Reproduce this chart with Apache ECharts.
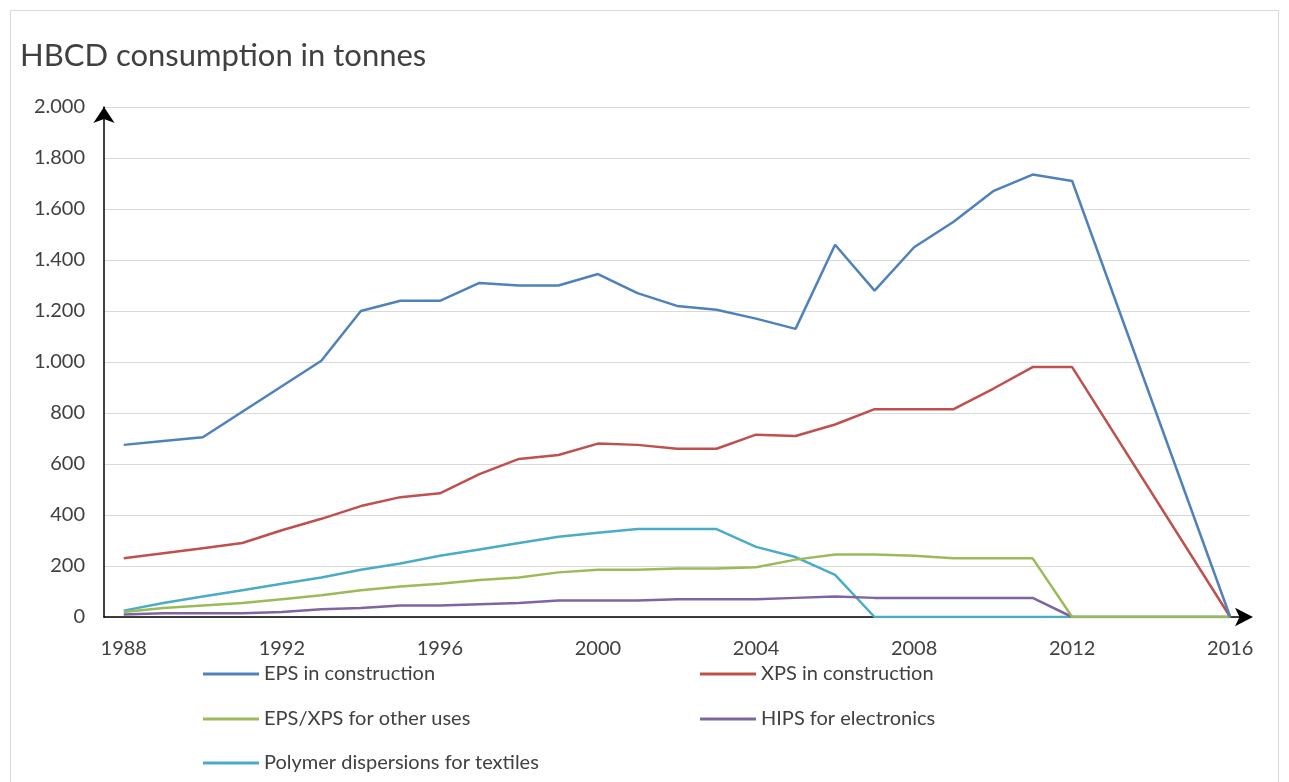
<!DOCTYPE html>
<html><head><meta charset="utf-8">
<script src="https://cdn.jsdelivr.net/npm/echarts@6/dist/echarts.min.js"></script>
<style>html,body{margin:0;padding:0;background:#fff}#c{width:1289px;height:782px}</style>
</head><body><div id="c"></div>
<script>
const years = ['1988','1989','1990','1991','1992','1993','1994','1995','1996','1997','1998','1999','2000','2001','2002','2003','2004','2005','2006','2007','2008','2009','2010','2011','2012','2013','2014','2015','2016'];
const epsConstruction = [675,690,705,805,905,1005,1200,1240,1240,1310,1300,1300,1345,1270,1220,1205,1170,1130,1460,1280,1450,1550,1670,1735,1710,null,null,null,0];
const xpsConstruction = [230,250,270,290,340,385,435,470,485,560,620,635,680,675,660,660,715,710,755,815,815,815,895,980,980,null,null,null,0];
const epsXpsOther = [20,35,45,55,70,85,105,120,130,145,155,175,185,185,190,190,195,225,245,245,240,230,230,230,0,0,0,0,0];
const hipsElectronics = [10,15,15,15,20,30,35,45,45,50,55,65,65,65,70,70,70,75,80,75,75,75,75,75,0,0,0,0,0];
const textiles = [25,55,80,105,130,155,185,210,240,265,290,315,330,345,345,345,275,235,165,0,0,0,0,0,0,0,0,0,0];
const names = ['EPS in construction','XPS in construction','EPS/XPS for other uses','HIPS for electronics','Polymer dispersions for textiles'];
const colors = ['#4F81BD','#C0504D','#9BBB59','#8064A2','#4BACC6'];
const dataSets = [epsConstruction, xpsConstruction, epsXpsOther, hipsElectronics, textiles];
const font = 'Lato, "Liberation Sans", sans-serif';
const legendPos = [[198,659],[695,659],[198,704],[695,704],[198,748]];
const chart = echarts.init(document.getElementById('c'));
chart.setOption({
  animation:false,
  backgroundColor:'#fff',
  color: colors,
  title:{text:'HBCD consumption in tonnes',left:15,top:35,textStyle:{fontFamily:font,fontSize:31,fontWeight:'normal',color:'#404040'}},
  graphic:[{type:'rect',shape:{x:10.5,y:10.5,width:1268,height:780},style:{fill:'none',stroke:'#d9d9d9',lineWidth:1},silent:true}],
  legend: names.map((n,i)=>({data:[n],left:legendPos[i][0],top:legendPos[i][1],icon:'rect',itemWidth:56,itemHeight:3,
    textStyle:{fontFamily:font,fontSize:20,color:'#404040'}})),
  grid:{left:104,right:39,top:107,bottom:165},
  xAxis:{type:'category',data:years,boundaryGap:true,
    axisLine:{lineStyle:{color:'#000',width:1.5},symbol:['none','arrow'],symbolSize:[14,18],symbolOffset:[0,3]},
    axisTick:{show:false},
    axisLabel:{interval:3,margin:22,fontFamily:font,fontSize:20,color:'#404040'}},
  yAxis:{type:'value',min:0,max:2000,interval:200,
    axisLine:{show:true,lineStyle:{color:'#000',width:1.5},symbol:['none','arrow'],symbolSize:[16,16],symbolOffset:[0,0]},
    axisTick:{show:false},
    splitLine:{lineStyle:{color:'#d9d9d9',width:1}},
    axisLabel:{margin:19,fontFamily:font,fontSize:20,color:'#404040',
      formatter:v=>String(v).replace(/\B(?=(\d{3})+(?!\d))/g,'.')}},
  series: dataSets.map((d,i)=>({name:names[i],type:'line',data:d,showSymbol:false,connectNulls:true,
    lineStyle:{width:2.5,color:colors[i]},itemStyle:{color:colors[i]},z:10-i}))
});
</script></body></html>
